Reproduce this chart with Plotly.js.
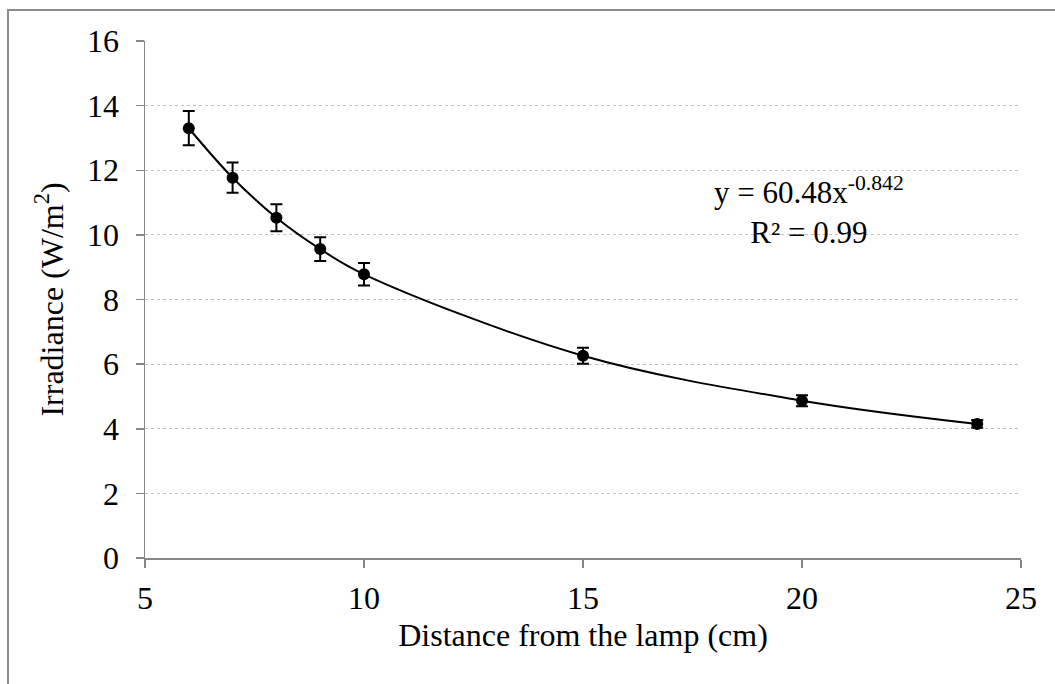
<!DOCTYPE html>
<html>
<head>
<meta charset="utf-8">
<script src="https://cdn.plot.ly/plotly-3.0.1.min.js"></script>
<style>
  html, body { margin: 0; padding: 0; background: #ffffff; }
  #wrap { position: relative; width: 1055px; height: 684px; overflow: hidden; }
  #frame { position: absolute; left: 7px; top: 9px; width: 1100px; height: 700px;
           border-left: 2px solid #8c8c8c; border-top: 2px solid #8c8c8c; pointer-events: none; }
  #chart { position: absolute; left: 0; top: 0; width: 1055px; height: 684px; }
</style>
</head>
<body>
<div id="wrap">
  <div id="chart"></div>
  <div id="frame"></div>
</div>
<script>
// Data
const distanceCm = [6, 7, 8, 9, 10, 15, 20, 24];
const irradiance = [13.30, 11.77, 10.53, 9.56, 8.78, 6.26, 4.87, 4.15];
const irradianceErr = [0.53, 0.47, 0.42, 0.37, 0.35, 0.25, 0.17, 0.12];

const xTickVals = [5, 10, 15, 20, 25];
const yTickVals = [0, 2, 4, 6, 8, 10, 12, 14, 16];

const xTitle = "Distance from the lamp (cm)";
const yTitle = "Irradiance (W/m<sup>2</sup>)";
const fitText = "y = 60.48x<sup>-0.842</sup><br>R² = 0.99";

const serif = "Liberation Serif";

const traces = [
  {
    x: distanceCm,
    y: irradiance,
    type: "scatter",
    mode: "lines",
    line: { color: "#000000", width: 2, shape: "spline", smoothing: 1.0 },
    hoverinfo: "skip",
    showlegend: false
  },
  {
    x: distanceCm,
    y: irradiance,
    type: "scatter",
    mode: "markers",
    marker: { color: "#000000", size: 12, symbol: "circle" },
    error_y: { type: "data", array: irradianceErr, visible: true, color: "#000000", thickness: 2, width: 6 },
    showlegend: false
  }
];

const layout = {
  width: 1055,
  height: 684,
  margin: { l: 145, r: 34, t: 41, b: 126 },
  paper_bgcolor: "#ffffff",
  plot_bgcolor: "#ffffff",
  font: { family: serif, color: "#000000", size: 32 },
  showlegend: false,
  xaxis: {
    range: [5, 25],
    tickvals: xTickVals,
    ticktext: xTickVals.map(String),
    ticks: "outside",
    ticklen: 8,
    tickwidth: 1.5,
    tickcolor: "#868686",
    showline: true,
    linecolor: "#868686",
    linewidth: 1.5,
    showgrid: false,
    zeroline: false,
    ticklabelstandoff: 3,
    tickfont: { family: serif, size: 32, color: "#000000" },
    title: { text: xTitle, font: { family: serif, size: 32, color: "#000000" }, standoff: 8 },
    automargin: false
  },
  yaxis: {
    range: [0, 16],
    tickvals: yTickVals,
    ticktext: yTickVals.map(String),
    ticks: "outside",
    ticklen: 8,
    tickwidth: 1.5,
    tickcolor: "#868686",
    showline: true,
    linecolor: "#868686",
    linewidth: 1.5,
    showgrid: true,
    gridcolor: "#c0c0c0",
    gridwidth: 1.2,
    griddash: "dot",
    zeroline: false,
    ticklabelstandoff: 10,
    tickfont: { family: serif, size: 32, color: "#000000" },
    title: { text: yTitle, font: { family: serif, size: 32, color: "#000000" }, standoff: 14 },
    automargin: false
  },
  annotations: [
    {
      xref: "x", yref: "y",
      x: 20.15, y: 10.75,
      text: fitText,
      showarrow: false,
      align: "center",
      xanchor: "center",
      yanchor: "middle",
      font: { family: serif, size: 31, color: "#000000" }
    }
  ]
};

Plotly.newPlot("chart", traces, layout, { displayModeBar: false, staticPlot: true });
</script>
</body>
</html>
